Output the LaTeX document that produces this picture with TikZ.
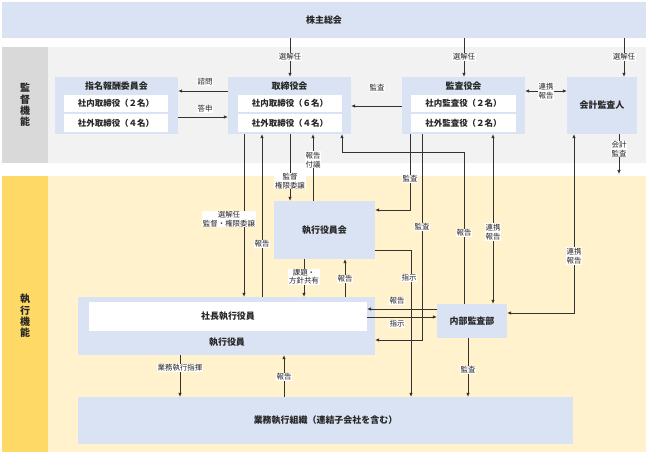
\documentclass[tikz,border=0pt]{standalone}
\usepackage{fontspec}
\setmainfont{Noto Sans CJK JP}
\usetikzlibrary{arrows.meta}
\definecolor{bxblue}{HTML}{DAE3F3}
\definecolor{gl}{HTML}{F2F2F2}
\definecolor{gd}{HTML}{D9D9D9}
\definecolor{yl}{HTML}{FFF2CC}
\definecolor{yd}{HTML}{FFD966}
\definecolor{ink}{HTML}{262626}
\definecolor{lncol}{HTML}{333333}
\newcommand\mkbox[7]{\node[#1,minimum width={(#5-#3)*1bp},minimum height={(#6-#4)*1bp}] (#2) at ({(#3+#5)/2},{(#4+#6)/2}) {#7};}
\begin{document}
\begin{tikzpicture}[x=1bp,y=-1bp,
  band/.style={draw=none,inner sep=0},
  bx/.style={fill=bxblue,draw=none,inner sep=0,text=ink,font=\fontsize{9}{11}\selectfont\bfseries},
  wbx/.style={fill=white,draw=none,inner sep=0,text=ink,font=\fontsize{8.5}{10}\selectfont\bfseries},
  ttl/.style={text=ink,font=\fontsize{9}{11}\selectfont\bfseries,inner sep=0},
  vttl/.style={text=ink,font=\fontsize{10}{11.5}\selectfont\bfseries,inner sep=0,align=center},
  lbl/.style={fill=white,inner sep=0.8bp,text=ink,font=\fontsize{7.5}{8.5}\selectfont,align=center},
  con/.style={draw=lncol,line width=0.7bp,-{Latex[length=4bp,width=3.6bp]}},
  dcon/.style={draw=lncol,line width=0.7bp,{Latex[length=4bp,width=3.6bp]}-{Latex[length=4bp,width=3.6bp]}}
]
\useasboundingbox (0,0) rectangle (648,456);
\fill[white] (0,0) rectangle (648,456);
% bands
\mkbox{bx}{kabu}{2}{2}{646}{38}{株主総会}
\mkbox{band,fill=gl}{gband}{2}{47}{646}{163}{}
\mkbox{band,fill=gd}{gcol}{2}{47}{48}{163}{}
\node[vttl] at (gcol) {監\\督\\機\\能};
\mkbox{band,fill=yl}{yband}{2}{176}{646}{452}{}
\mkbox{band,fill=yd}{ycol}{2}{176}{48}{452}{}
\node[vttl] at (25,316) {執\\行\\機\\能};
% supervisory boxes
\mkbox{bx}{shimei}{55}{77}{178}{134}{}
\node[ttl] at (116.5,86) {指名報酬委員会};
\mkbox{wbx}{shimeiA}{64}{95}{168}{112}{社内取締役（２名）}
\mkbox{wbx}{shimeiB}{64}{114}{168}{132}{社外取締役（４名）}
\mkbox{bx}{tori}{228}{77}{351}{134}{}
\node[ttl] at (289.5,86) {取締役会};
\mkbox{wbx}{toriA}{238}{95}{342}{112}{社内取締役（６名）}
\mkbox{wbx}{toriB}{238}{114}{342}{132}{社外取締役（４名）}
\mkbox{bx}{kansa}{402}{77}{525}{134}{}
\node[ttl] at (463.5,86) {監査役会};
\mkbox{wbx}{kansaA}{411}{95}{516}{112}{社内監査役（２名）}
\mkbox{wbx}{kansaB}{411}{114}{516}{132}{社外監査役（２名）}
\mkbox{bx}{kaikei}{567}{77}{637}{134}{会計監査人}
% execution boxes
\mkbox{bx}{shikkoukai}{274}{201}{375}{259}{執行役員会}
\mkbox{bx}{shikkou}{78}{297}{375}{355}{}
\mkbox{wbx,font=\fontsize{9}{11}\selectfont\bfseries}{shacho}{89}{302}{367}{331}{社長執行役員}
\node[ttl] at (227,342) {執行役員};
\mkbox{bx}{naibu}{437}{304}{507}{338}{内部監査部}
\mkbox{bx}{gyomu}{78}{397}{573}{444}{業務執行組織（連結子会社を含む）}
% helper coordinates
\coordinate (x180) at (180,0);
\coordinate (x244) at (244,0);
\coordinate (x262) at (262,0);
\coordinate (x284) at (284,0);
\coordinate (x290) at (290,0);
\coordinate (x304) at (304,0);
\coordinate (x313) at (313,0);
\coordinate (x345) at (345,0);
\coordinate (x464) at (464,0);
\coordinate (x468) at (468,0);
\coordinate (x493) at (493,0);
\coordinate (x624) at (624,0);
\coordinate (y91) at (0,91);
\coordinate (y106) at (0,106);
\coordinate (y117) at (0,117);
\coordinate (y309) at (0,309);
\coordinate (y317) at (0,317);
\coordinate (b1) at (464,152);
\coordinate (b2) at (342,152);
\coordinate (c1) at (410,210);
\coordinate (c2) at (422,340);
\coordinate (c3) at (574,313);
\coordinate (c4) at (411,250);
\coordinate (c5) at (619,174);
% connectors
\draw[con] (kabu.south -| x290) -- (tori.north -| x290);
\draw[con] (kabu.south -| x464) -- (kansa.north -| x464);
\draw[con] (kabu.south -| x624) -- (kaikei.north -| x624);
\draw[con] (tori.west |- y91) -- (shimei.east |- y91);
\draw[con] (shimei.east |- y117) -- (tori.west |- y117);
\draw[con] (kansa.west |- y106) -- (tori.east |- y106);
\draw[dcon] (kansa.east |- y91) -- (kaikei.west |- y91);
\draw[con] (kaikei.south -| c5) -- (c5);
\draw[con] (tori.south -| x244) -- (shikkou.north -| x244);
\draw[con] (shikkou.north -| x262) -- (tori.south -| x262);
\draw[con] (tori.south -| x290) -- (shikkoukai.north -| x290);
\draw[con] (shikkoukai.north -| x313) -- (tori.south -| x313);
\draw[con] (naibu.north -| b1) -- (b1) -- (b2) -- (tori.south -| b2);
\draw[con] (kansa.south -| c1) -- (c1) -- (shikkoukai.east |- c1);
\draw[con] (kansa.south -| c2) -- (c2) -- (shikkou.east |- c2);
\draw[dcon] (kansa.south -| x493) -- (naibu.north -| x493);
\draw[dcon] (kaikei.south -| c3) -- (c3) -- (naibu.east |- c3);
\draw[con] (shikkoukai.east |- c4) -- (c4) -- (gyomu.north -| c4);
\draw[con] (naibu.west |- y309) -- (shacho.east |- y309);
\draw[con] (shacho.east |- y317) -- (naibu.west |- y317);
\draw[con] (shikkoukai.south -| x304) -- (shikkou.north -| x304);
\draw[con] (shikkou.north -| x345) -- (shikkoukai.south -| x345);
\draw[con] (shikkou.south -| x180) -- (gyomu.north -| x180);
\draw[con] (gyomu.north -| x284) -- (shikkou.south -| x284);
\draw[con] (naibu.south -| x468) -- (gyomu.north -| x468);
% labels
\node[lbl] at (290,57) {選解任};
\node[lbl] at (464,57) {選解任};
\node[lbl] at (624,57) {選解任};
\node[lbl] at (205,82) {諮問};
\node[lbl] at (205,109) {答申};
\node[lbl] at (377,88) {監査};
\node[lbl] at (546,91) {連携\\報告};
\node[lbl] at (619,149) {会計\\監査};
\node[lbl] at (229,219) {選解任\\監督・権限委譲};
\node[lbl] at (262,244) {報告};
\node[lbl] at (290,181) {監督\\権限委譲};
\node[lbl] at (313,160) {報告\\付議};
\node[lbl] at (464,233) {報告};
\node[lbl] at (410,179) {監査};
\node[lbl] at (422,227) {監査};
\node[lbl] at (493,232) {連携\\報告};
\node[lbl] at (574,256) {連携\\報告};
\node[lbl] at (409,278) {指示};
\node[lbl] at (397,301) {報告};
\node[lbl] at (397,324) {指示};
\node[lbl] at (304,277) {課題・\\方針共有};
\node[lbl] at (345,279) {報告};
\node[lbl] at (180,368) {業務執行指揮};
\node[lbl] at (284,377) {報告};
\node[lbl] at (468,370) {監査};
\end{tikzpicture}
\end{document}
